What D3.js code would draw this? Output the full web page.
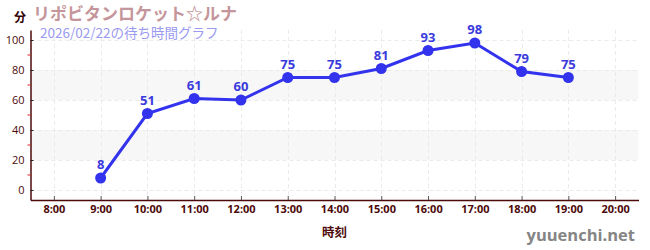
<!DOCTYPE html>
<html>
<head>
<meta charset="utf-8">
<script src="https://cdn.jsdelivr.net/npm/d3@7"></script>
<style>
  body { margin: 0; background: #fff; }
  svg { display: block; font-family: "Noto Sans CJK JP", "Noto Sans", sans-serif; }
</style>
</head>
<body>
<div id="chart"></div>
<script>
var hours = [9, 10, 11, 12, 13, 14, 15, 16, 17, 18, 19];
var waits = [8, 51, 61, 60, 75, 75, 81, 93, 98, 79, 75];
var xTicks = [8, 9, 10, 11, 12, 13, 14, 15, 16, 17, 18, 19, 20];
var yTicks = [0, 20, 40, 60, 80, 100];
var yMinor = [10, 30, 50, 70, 90];
var bands = [[20, 40], [60, 80]];

var width = 650, height = 250;
var plotLeft = 30.5, plotRight = 638.5, plotTop = 30, plotBottom = 200;
var axisColor = "#4d0a0a";

var svg = d3.select("#chart").append("svg").attr("width", width).attr("height", height);

var x = d3.scaleLinear().domain([7.5, 20.5]).range([plotLeft, plotRight]);
var y = d3.scaleLinear().domain([-6.667, 106.667]).range([plotBottom, plotTop]);

// bands
svg.selectAll(".band").data(bands).enter().append("rect")
  .attr("x", plotLeft).attr("width", plotRight - plotLeft)
  .attr("y", function (d) { return y(d[1]); })
  .attr("height", function (d) { return y(d[0]) - y(d[1]); })
  .attr("fill", "#f7f7f7");

// grid
svg.selectAll(".hgrid").data(yTicks).enter().append("line")
  .attr("x1", plotLeft).attr("x2", plotRight)
  .attr("y1", function (d) { return y(d) + 0.5; }).attr("y2", function (d) { return y(d) + 0.5; })
  .attr("stroke", "#ebebeb").attr("stroke-dasharray", "4,3");
svg.selectAll(".vgrid").data(xTicks).enter().append("line")
  .attr("y1", plotTop).attr("y2", plotBottom)
  .attr("x1", function (d) { return Math.round(x(d)) + 0.5; }).attr("x2", function (d) { return Math.round(x(d)) + 0.5; })
  .attr("stroke", "#ebebeb").attr("stroke-dasharray", "4,3");

// y axis
var ya = svg.append("g").attr("transform", "translate(" + plotLeft + ",0)")
  .call(d3.axisLeft(y).tickValues(yTicks).tickSize(4).tickSizeOuter(0));
ya.select(".domain").attr("stroke", axisColor).attr("stroke-width", 1.5);
ya.selectAll(".tick line").attr("stroke", "#222").attr("x2", 3);
ya.selectAll("text").attr("fill", axisColor).attr("font-size", 11).attr("x", -6)
  .style("font-family", "'Open Sans', sans-serif");
svg.append("g").attr("transform", "translate(" + plotLeft + ",0)")
  .selectAll("line").data(yMinor).enter().append("line")
  .attr("x1", -3).attr("x2", 0)
  .attr("y1", function (d) { return y(d); }).attr("y2", function (d) { return y(d); })
  .attr("stroke", "#e02020");

// x axis
var xa = svg.append("g").attr("transform", "translate(0," + plotBottom + ")")
  .call(d3.axisBottom(x).tickValues(xTicks).tickSize(4).tickSizeOuter(0)
    .tickFormat(function (d) { return d + ":00"; }));
xa.select(".domain").attr("stroke", axisColor).attr("stroke-width", 1.5);
xa.selectAll(".tick line").attr("stroke", "#555").attr("y1", -4).attr("y2", 0);
xa.selectAll("text").attr("fill", axisColor).attr("font-size", 11).attr("font-weight", "bold")
  .attr("y", 5).style("font-family", "'Open Sans', sans-serif");

svg.append("text").attr("x", (plotLeft + plotRight) / 2).attr("y", 237)
  .attr("text-anchor", "middle").attr("font-size", 12.5).attr("font-weight", "bold")
  .attr("fill", axisColor).text("時刻");

// line
var line = d3.line().x(function (d, i) { return x(hours[i]); }).y(function (d) { return y(d); });
svg.append("path").datum(waits).attr("d", line)
  .attr("fill", "none").attr("stroke", "#3333ee").attr("stroke-width", 3);
svg.selectAll(".pt").data(waits).enter().append("circle")
  .attr("cx", function (d, i) { return x(hours[i]); })
  .attr("cy", function (d) { return y(d); })
  .attr("r", 5.5).attr("fill", "#3333ee");
svg.selectAll(".lbl").data(waits).enter().append("text")
  .attr("x", function (d, i) { return x(hours[i]); })
  .attr("y", function (d) { return y(d) - 9; })
  .attr("text-anchor", "middle").attr("font-size", 13).attr("font-weight", "bold")
  .attr("fill", "#3b3bdd").style("font-family", "'Open Sans', sans-serif")
  .text(function (d) { return d; });

// titles
svg.append("text").attr("x", 14).attr("y", 22).attr("font-size", 12).attr("font-weight", "bold")
  .attr("fill", "#330000").text("分");
svg.append("text").attr("x", 33).attr("y", 20).attr("font-size", 17).attr("font-weight", "bold")
  .attr("fill", "#c4959a").text("リポビタンロケット☆ルナ");
svg.append("text").attr("x", 40).attr("y", 38).attr("font-size", 13.5)
  .attr("fill", "#9a9af0").text("2026/02/22の待ち時間グラフ");
svg.append("text").attr("x", 635).attr("y", 241).attr("text-anchor", "end")
  .attr("font-size", 16.5).attr("font-weight", "bold").attr("fill", "#858585")
  .style("font-family", "'Open Sans', sans-serif")
  .text("yuuenchi.net");
</script>
</body>
</html>
